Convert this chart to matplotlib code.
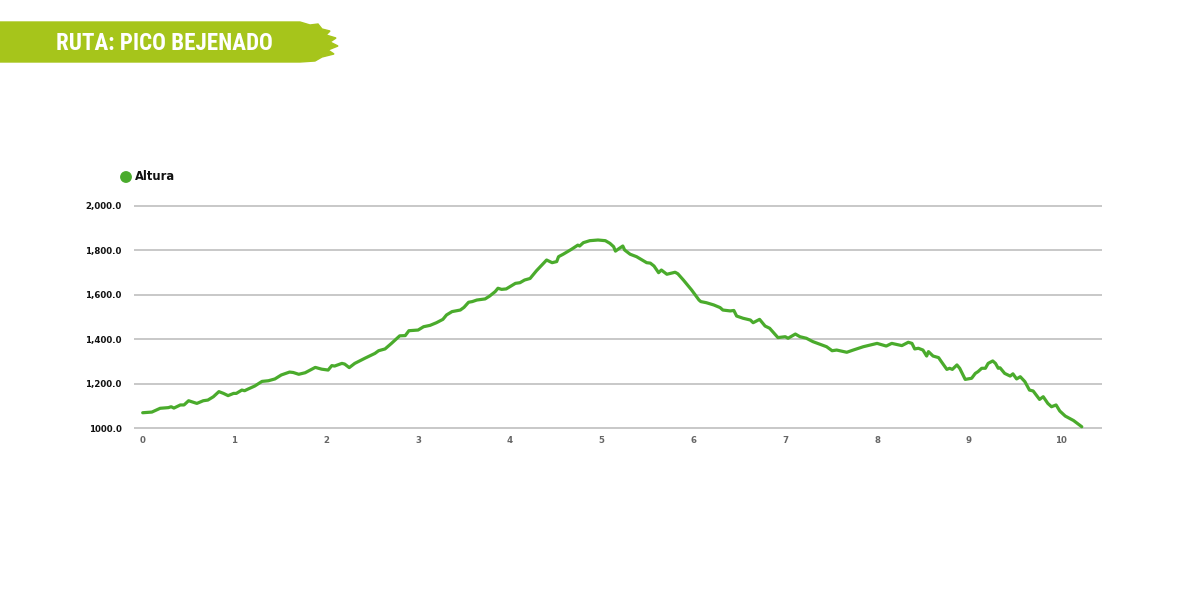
import matplotlib
matplotlib.use("Agg")
import matplotlib.pyplot as plt
from matplotlib import font_manager
from matplotlib.patches import Polygon, Circle
from matplotlib.ticker import FixedLocator, FixedFormatter

# distance (km) and elevation (m)
dist_km = [0.00, 0.10, 0.19, 0.28, 0.31, 0.34, 0.41, 0.45, 0.50, 0.59, 0.66, 0.71, 0.77, 0.83, 0.88,
           0.93, 0.99, 1.02, 1.08, 1.11, 1.15, 1.22, 1.30, 1.37, 1.44, 1.51, 1.60, 1.64, 1.70, 1.77,
           1.88, 1.95, 2.02, 2.06, 2.09, 2.13, 2.17, 2.20, 2.25, 2.31, 2.42, 2.53, 2.57, 2.64, 2.71,
           2.80, 2.86, 2.90, 3.00, 3.06, 3.13, 3.20, 3.27, 3.31, 3.37, 3.46, 3.50, 3.55, 3.59, 3.64,
           3.73, 3.78, 3.84, 3.87, 3.91, 3.96, 4.00, 4.06, 4.11, 4.16, 4.22, 4.29, 4.40, 4.46, 4.51,
           4.53, 4.58, 4.67, 4.74, 4.76, 4.80, 4.87, 4.96, 5.04, 5.09, 5.13, 5.15, 5.18, 5.23, 5.25,
           5.31, 5.38, 5.44, 5.49, 5.53, 5.57, 5.62, 5.65, 5.71, 5.76, 5.80, 5.83, 5.89, 5.98, 6.06,
           6.08, 6.14, 6.22, 6.29, 6.32, 6.40, 6.44, 6.47, 6.54, 6.62, 6.65, 6.72, 6.78, 6.83, 6.92,
           7.00, 7.03, 7.11, 7.16, 7.23, 7.30, 7.45, 7.51, 7.56, 7.67, 7.74, 7.85, 8.00, 8.10, 8.16,
           8.27, 8.34, 8.38, 8.41, 8.45, 8.50, 8.54, 8.56, 8.61, 8.67, 8.70, 8.76, 8.79, 8.82, 8.87,
           8.90, 8.96, 9.03, 9.07, 9.10, 9.14, 9.18, 9.21, 9.26, 9.29, 9.32, 9.34, 9.39, 9.45, 9.48,
           9.52, 9.56, 9.61, 9.66, 9.70, 9.77, 9.81, 9.86, 9.90, 9.95, 9.99, 10.05, 10.14, 10.23]
altura = [1070, 1073, 1090, 1093, 1097, 1091, 1105, 1105, 1124, 1112, 1124, 1127, 1142, 1165, 1157,
          1147, 1157, 1157, 1172, 1169, 1177, 1190, 1211, 1214, 1222, 1240, 1253, 1251, 1243, 1250,
          1274, 1266, 1262, 1282, 1280, 1286, 1292, 1289, 1273, 1292, 1315, 1337, 1349, 1357, 1382,
          1416, 1417, 1439, 1442, 1457, 1463, 1475, 1490, 1510, 1525, 1532, 1544, 1567, 1570, 1577,
          1582, 1595, 1615, 1630, 1625, 1627, 1637, 1652, 1655, 1667, 1674, 1709, 1757, 1745, 1750,
          1772, 1783, 1805, 1824, 1820, 1835, 1844, 1847, 1844, 1832, 1817, 1797, 1806, 1820, 1802,
          1783, 1772, 1757, 1745, 1743, 1730, 1700, 1712, 1693, 1698, 1702, 1695, 1667, 1622, 1577,
          1570, 1565, 1555, 1543, 1532, 1528, 1530, 1505, 1495, 1487, 1475, 1490, 1460, 1450, 1408,
          1412, 1405, 1424, 1412, 1405, 1390, 1367, 1349, 1352, 1342, 1352, 1367, 1382, 1370, 1382,
          1372, 1387, 1382, 1357, 1360, 1352, 1325, 1345, 1325, 1318, 1300, 1265, 1270, 1265, 1285,
          1270, 1220, 1225, 1247, 1255, 1270, 1270, 1292, 1303, 1292, 1270, 1272, 1247, 1235, 1245,
          1222, 1232, 1210, 1172, 1168, 1130, 1142, 1112, 1097, 1105, 1078, 1055, 1035, 1007]

y_ticks = [1000, 1200, 1400, 1600, 1800, 2000]
y_labels = ["1000.0", "1,200.0", "1,400.0", "1,600.0", "1,800.0", "2,000.0"]
x_ticks = list(range(0, 11))

title = "RUTA: PICO BEJENADO"
series_name = "Altura"

GREEN = "#4aab2c"
LIME = "#a6c51b"

W, H = 1200, 615
fig = plt.figure(figsize=(W / 100, H / 100), dpi=100, facecolor="white")

# chart area in pixel coordinates (y limits padded a little so the edge gridlines aren't clipped)
px_per_m = 222.3 / 1000
y_lo, y_hi = 995, 2008
left, right = 134.3, 1101.7
top = 206.0 - (y_hi - 2000) * px_per_m
bottom = 428.3 + (1000 - y_lo) * px_per_m
ax = fig.add_axes([left / W, 1 - bottom / H, (right - left) / W, (bottom - top) / H])
ax.plot(dist_km, altura, color=GREEN, lw=2.3, solid_joinstyle="round", solid_capstyle="round",
        zorder=3)
ax.set_xlim(-0.0915, 10.447)
ax.set_ylim(y_lo, y_hi)

for s in ax.spines.values():
    s.set_visible(False)
ax.yaxis.set_major_locator(FixedLocator(y_ticks))
ax.yaxis.set_major_formatter(FixedFormatter(y_labels))
ax.xaxis.set_major_locator(FixedLocator(x_ticks))
ax.grid(axis="y", color="#c8c8c8", lw=1.4, zorder=0)
ax.tick_params(axis="y", length=0, pad=9, labelsize=6.2, labelcolor="#111111")
ax.tick_params(axis="x", length=0, pad=5, labelsize=6.2, labelcolor="#666666")
for lab in ax.get_yticklabels() + ax.get_xticklabels():
    lab.set_fontweight("bold")

# legend
fig.patches.append(Circle((126, H - 177), 5.2, transform=None, color=GREEN))
fig.text(135 / W, 1 - 177 / H, series_name, fontsize=8.3, fontweight="bold", color="#111111",
         va="center", ha="left")

# title banner with a rough brush edge on the right
brush = [(0, 22), (300, 22), (310, 25), (318, 24), (322, 29), (330, 31), (326, 35), (336, 38),
         (330, 42), (338, 46), (328, 50), (334, 54), (322, 57), (315, 61), (300, 62), (0, 62)]
fig.patches.append(Polygon([(x, H - y) for x, y in brush], closed=True, transform=None,
                           color=LIME, zorder=0))

# pick a condensed face if one is installed
installed = {f.name for f in font_manager.fontManager.ttflist}
cond = [f for f in ["Liberation Sans Narrow", "DejaVu Sans Condensed", "Roboto Condensed",
                    "Open Sans Condensed"] if f in installed]
fam = cond[:1] + ["DejaVu Sans"]
t = fig.text(56 / W, 1 - 43 / H, title, fontsize=21, fontweight="bold", color="white",
             family=fam, fontstretch="condensed", va="center", ha="left")
# shrink to the width the banner text has in the reference (~217 px)
fig.canvas.draw()
w = t.get_window_extent().width
if w > 220:
    t.set_fontsize(21 * 217 / w)

fig.savefig("out.png", dpi=100, facecolor="white")
